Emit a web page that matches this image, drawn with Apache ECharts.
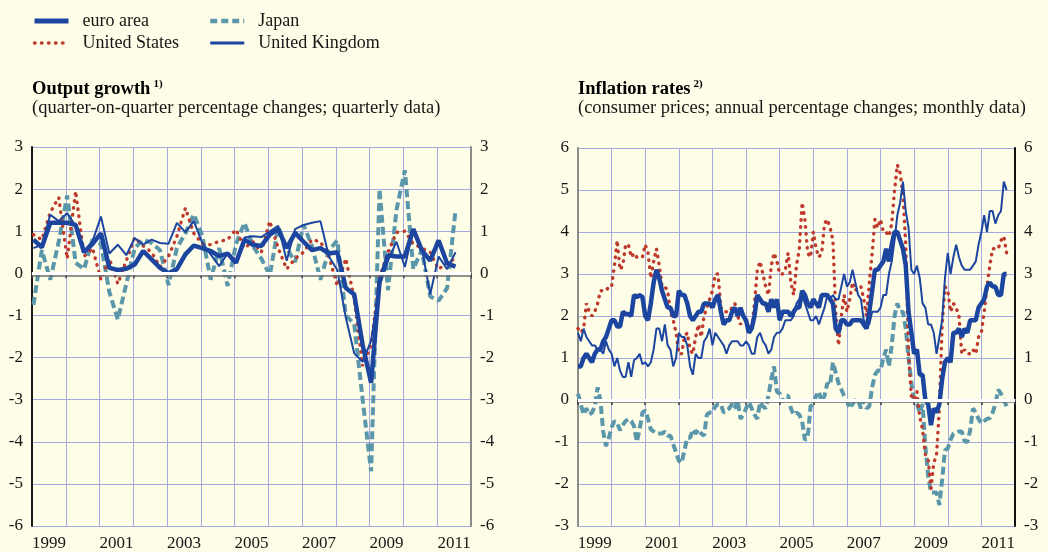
<!DOCTYPE html>
<html>
<head>
<meta charset="utf-8">
<script src="https://cdn.jsdelivr.net/npm/echarts/dist/echarts.min.js"></script>
<style>
  html, body { margin: 0; padding: 0; background: #fefde8; }
  #chart { width: 1048px; height: 552px; }
</style>
</head>
<body>
<div id="chart"></div>
<script>
// tick labels (one category per year, labels every other year)
const years = ['1999', '2000', '2001', '2002', '2003', '2004', '2005', '2006', '2007', '2008', '2009', '2010', '2011'];

// output growth, q-o-q %, 1999 Q1 - 2011 Q3
const euroAreaGrowth = [0.8, 0.62, 1.2, 1.2, 1.2, 1.15, 0.5, 0.7, 0.95, 0.13, 0.08, 0.11,
  0.21, 0.53, 0.33, 0.13, 0.0, 0.1, 0.45, 0.66, 0.6, 0.53, 0.41, 0.47,
  0.25, 0.8, 0.68, 0.65, 0.92, 1.05, 0.6, 0.96, 0.75, 0.55, 0.6, 0.47,
  0.5, -0.35, -0.5, -1.7, -2.6, -0.2, 0.43, 0.4, 0.4, 1.05, 0.55, 0.3,
  0.78, 0.24, 0.16];
const usGrowth = [0.92, 0.8, 1.45, 1.8, 0.35, 1.95, 0.4, 0.6, -0.15, 0.35, -0.25, 0.3,
  0.85, 0.65, 0.5, 0.15, 0.4, 0.88, 1.55, 0.95, 0.7, 0.68, 0.76, 0.8,
  1.04, 0.6, 0.75, 0.5, 1.24, 0.6, 0.1, 0.35, 0.5, 0.8, 0.75, 0.4,
  -0.3, 0.35, -0.6, -2.2, -1.7, -0.1, 0.5, 0.97, 1.0, 0.7, 0.6, 0.5,
  0.1, 0.25, 0.35];
const japanGrowth = [-0.75, 0.55, -0.15, 0.75, 1.85, 0.25, 0.1, 0.8, 0.7, -0.45, -1.1, -0.25,
  0.6, 0.8, 0.72, 0.55, -0.28, 0.6, 0.95, 1.4, 0.9, -0.15, 0.6, -0.3,
  0.7, 1.2, 0.65, 0.35, -0.05, 1.1, 0.6, 0.27, 1.15, 0.65, -0.15, 0.55,
  0.78, -1.0, -1.2, -3.0, -4.7, 2.0, -0.4, 1.5, 2.45, 0.1, 0.55, -0.55,
  -0.65, -0.35, 1.5];
const ukGrowth = [0.6, 0.68, 1.39, 1.24, 1.43, 1.12, 0.53, 0.76, 1.35, 0.47, 0.68, 0.43,
  0.84, 0.68, 0.8, 0.72, 0.7, 1.2, 0.98, 1.24, 0.72, 0.45, 0.17, 0.47,
  0.25, 0.85, 0.88, 0.86, 1.0, 1.13, 0.3, 1.05, 1.15, 1.2, 1.24, 0.4,
  0.08, -1.05, -1.9, -2.1, -1.6, -0.3, 0.3, 0.75, 0.15, 1.05, 0.6, -0.5,
  0.4, 0.1, 0.5];

// inflation, annual %, Jan 1999 - Oct 2011
const euroAreaInflation = [
  0.8, 0.8, 1.0, 1.1, 1.0, 0.9, 1.1, 1.2, 1.2, 1.4, 1.5, 1.7,
  1.9, 1.9, 1.75, 1.75, 2.1, 2.05, 2.05, 2.0, 2.5, 2.45, 2.5, 2.45,
  2.0, 1.9, 2.3, 2.8, 3.1, 2.9, 2.6, 2.4, 2.2, 2.2, 2.0, 2.0,
  2.6, 2.5, 2.5, 2.3, 2.0, 1.9, 2.0, 2.1, 2.1, 2.3, 2.3, 2.3,
  2.2, 2.4, 2.5, 2.1, 1.8, 1.9, 1.9, 2.1, 2.2, 2.0, 2.2, 2.0,
  1.9, 1.6, 1.7, 2.0, 2.5, 2.4, 2.3, 2.3, 2.1, 2.4, 2.2, 2.4,
  1.9, 2.1, 2.1, 2.1, 2.0, 2.1, 2.2, 2.2, 2.6, 2.5, 2.3, 2.2,
  2.4, 2.3, 2.2, 2.5, 2.5, 2.5, 2.4, 2.3, 1.7, 1.6, 1.9, 1.9,
  1.8, 1.8, 1.9, 1.9, 1.9, 1.9, 1.8, 1.7, 2.1, 2.6, 3.1, 3.1,
  3.2, 3.3, 3.6, 3.3, 3.7, 4.0, 4.0, 3.8, 3.6, 3.2, 2.1, 1.6,
  1.1, 1.2, 0.6, 0.6, 0.0, -0.1, -0.6, -0.2, -0.3, -0.1, 0.5, 0.9,
  1.0, 0.9, 1.6, 1.6, 1.7, 1.5, 1.7, 1.6, 1.9, 1.9, 1.9, 2.2,
  2.3, 2.4, 2.7, 2.8, 2.7, 2.7, 2.5, 2.5, 3.0, 3.0];
const usInflation = [
  1.7, 1.6, 1.7, 2.3, 2.1, 2.0, 2.1, 2.3, 2.6, 2.6, 2.6, 2.7,
  2.7, 3.2, 3.8, 3.1, 3.2, 3.7, 3.7, 3.4, 3.5, 3.4, 3.4, 3.4,
  3.7, 3.5, 2.9, 3.3, 3.6, 3.2, 2.7, 2.7, 2.6, 2.1, 1.9, 1.6,
  1.1, 1.1, 1.5, 1.6, 1.2, 1.1, 1.5, 1.8, 1.5, 2.0, 2.2, 2.4,
  2.6, 3.0, 3.0, 2.2, 2.1, 2.1, 2.1, 2.2, 2.3, 2.0, 1.8, 1.9,
  1.9, 1.7, 1.7, 2.3, 3.1, 3.3, 3.0, 2.7, 2.5, 3.2, 3.5, 3.3,
  3.0, 3.0, 3.1, 3.5, 2.8, 2.5, 3.2, 3.6, 4.7, 4.3, 3.5, 3.4,
  4.0, 3.6, 3.4, 3.5, 4.2, 4.3, 4.1, 3.8, 2.1, 1.3, 2.0, 2.5,
  2.1, 2.4, 2.8, 2.6, 2.7, 2.7, 2.4, 2.0, 2.8, 3.5, 4.3, 4.1,
  4.3, 4.0, 4.0, 3.9, 4.2, 5.0, 5.6, 5.4, 4.9, 3.7, 1.1, 0.1,
  0.0, 0.2, -0.4, -0.7, -1.3, -1.4, -2.1, -1.5, -1.3, -0.2, 1.8, 2.7,
  2.6, 2.1, 2.3, 2.2, 2.0, 1.1, 1.2, 1.1, 1.1, 1.2, 1.1, 1.5,
  1.6, 2.1, 2.7, 3.2, 3.6, 3.6, 3.6, 3.8, 3.9, 3.5];
const japanInflation = [
  0.15, -0.1, -0.35, -0.2, -0.35, -0.3, -0.15, 0.3, 0.0, -0.75, -1.1, -0.9,
  -0.65, -0.5, -0.55, -0.72, -0.6, -0.5, -0.45, -0.5, -0.62, -1.0, -0.7, -0.3,
  -0.25, -0.45, -0.7, -0.75, -0.8, -0.8, -0.8, -0.75, -0.85, -0.85, -1.05, -1.25,
  -1.45, -1.5, -1.2, -0.9, -0.9, -0.7, -0.8, -0.7, -0.8, -0.85, -0.35, -0.3,
  -0.3, -0.15, -0.1, -0.1, -0.3, -0.25, -0.2, -0.1, -0.2, 0.0, -0.45, -0.35,
  -0.2, -0.05, -0.2, -0.35, -0.45, -0.05, -0.15, -0.2, 0.1, 0.5, 0.8, 0.2,
  0.15, -0.05, 0.1, 0.1, -0.2, -0.35, -0.3, -0.35, -0.5, -0.95, -0.9, -0.15,
  -0.1, 0.1, 0.2, -0.05, 0.1, 0.4, 0.35, 0.9, 0.65, 0.4, 0.25, 0.1,
  0.0, -0.2, -0.1, 0.0, 0.0, -0.2, 0.0, -0.2, -0.15, 0.3, 0.6, 0.7,
  0.7, 1.0, 1.2, 0.8, 1.3, 2.0, 2.3, 2.1, 2.1, 1.7, 1.0, 0.4,
  0.0, -0.1, -0.3, -0.1, -1.1, -1.8, -2.2, -2.2, -2.2, -2.5, -1.9, -1.2,
  -1.15, -0.95, -0.8, -0.78, -0.75, -0.75, -0.98, -1.0, -0.72, -0.2, -0.3, -0.45,
  -0.56, -0.5, -0.45, -0.43, -0.3, -0.1, 0.25, 0.15, 0.0, -0.15];
const ukInflation = [
  1.6, 1.4, 1.7, 1.5, 1.4, 1.3, 1.3, 1.2, 1.2, 1.1, 1.4, 1.2,
  1.1, 0.8, 1.0, 0.7, 0.55, 0.55, 0.9, 0.55, 0.95, 1.0, 1.1, 0.85,
  0.9, 0.8, 0.9, 1.2, 1.7, 1.7, 1.4, 1.8, 1.3, 1.2, 0.8, 1.0,
  1.6, 1.5, 1.5, 1.3, 0.8, 0.6, 1.1, 1.0, 1.0, 1.4, 1.5, 1.7,
  1.3, 1.6, 1.5, 1.4, 1.3, 1.1, 1.3, 1.4, 1.4, 1.4, 1.3, 1.3,
  1.4, 1.3, 1.1, 1.1, 1.5, 1.6, 1.4, 1.3, 1.1, 1.2, 1.5, 1.6,
  1.6, 1.7, 1.9, 1.9, 1.9, 2.0, 2.3, 2.4, 2.5, 2.3, 2.1, 1.9,
  1.9, 2.0, 1.8, 2.0, 2.2, 2.5, 2.4, 2.5, 2.4, 2.4, 2.7, 3.0,
  2.7, 2.8, 3.1, 2.8, 2.5, 2.4, 1.9, 1.8, 1.8, 2.1, 2.1, 2.1,
  2.2, 2.5, 2.5, 3.0, 3.3, 3.8, 4.4, 4.7, 5.2, 4.5, 4.1, 3.1,
  3.0, 3.2, 2.9, 2.3, 2.2, 1.8, 1.8, 1.6, 1.1, 1.5, 1.9, 2.9,
  3.5, 3.0, 3.4, 3.7, 3.4, 3.2, 3.1, 3.1, 3.1, 3.2, 3.3, 3.7,
  4.0, 4.4, 4.0, 4.5, 4.5, 4.2, 4.4, 4.5, 5.2, 5.0];

const startYear = 1999;
const endYear = 2012;
const quarterly = (vals) => vals.map((v, i) => [startYear + i / 4 + 1 / 24, v]);
const monthly = (vals) => vals.map((v, i) => [startYear + i / 12, v]);

const BLUE = '#1c45a0';
const RED = '#bd3a2d';
const TEAL = '#5b97aa';
const GRID = '#a4aae0';
const FONT = 'Liberation Serif';
const TXT = '#161616';

const styles = {
  'euro area': { color: BLUE, lineStyle: { width: 4.5 } },
  'United States': { color: RED, lineStyle: { width: 3.4, type: [0.5, 6.5], cap: 'round' } },
  'Japan': { color: TEAL, lineStyle: { width: 4, type: [8, 4] } },
  'United Kingdom': { color: BLUE, lineStyle: { width: 2 } },
};
// legend keys are drawn a little heavier than the plotted lines
const legendLines = {
  'euro area': { color: BLUE, width: 5 },
  'United States': { color: RED, width: 3.5, type: [0.5, 6.5], cap: 'round' },
  'Japan': { color: TEAL, width: 4.5, type: [7, 4] },
  'United Kingdom': { color: BLUE, width: 3 },
};

function line(name, data, idx) {
  const s = styles[name];
  return {
    name: name,
    type: 'line',
    xAxisIndex: idx * 2,
    yAxisIndex: idx * 2,
    data: data,
    symbol: 'none',
    z: 3,
    color: s.color,
    lineStyle: Object.assign({ color: s.color }, s.lineStyle),
    animation: false,
  };
}

// white zero line with a grey shadow under it
function zeroLine(idx, shift) {
  return {
    type: 'line',
    xAxisIndex: idx * 2,
    yAxisIndex: idx * 2,
    data: [],
    z: 2,
    silent: true,
    markLine: {
      silent: true,
      symbol: 'none',
      label: { show: false },
      animation: false,
      data: [
        { yAxis: -shift, lineStyle: { color: '#6d6d6d', width: 1.5, type: 'solid' } },
        { yAxis: 0, lineStyle: { color: '#ffffff', width: 3, type: 'solid' } },
      ],
    },
  };
}

function xAxes(idx) {
  return [
    {
      type: 'value',
      gridIndex: idx,
      position: 'bottom',
      min: startYear,
      max: endYear,
      interval: 1,
      axisLine: { show: true, lineStyle: { color: '#8c8c8c', width: 2 } },
      axisTick: { show: true, length: 5, lineStyle: { color: '#333', width: 1.5 } },
      axisLabel: { show: false },
      splitLine: { show: true, lineStyle: { color: GRID, width: 1 } },
    },
    {
      type: 'category',
      gridIndex: idx,
      position: 'bottom',
      data: years,
      boundaryGap: true,
      axisLine: { show: false },
      axisTick: { show: false },
      splitLine: { show: false },
      axisLabel: { interval: 1, fontFamily: FONT, fontSize: 17, color: TXT, margin: 9 },
    },
  ];
}

function yAxes(idx, min, max, leftColor, rightColor) {
  const base = {
    type: 'value',
    gridIndex: idx,
    min: min,
    max: max,
    interval: 1,
    axisTick: { show: false },
    axisLabel: { fontFamily: FONT, fontSize: 17, color: TXT, margin: 9 },
  };
  return [
    Object.assign({}, base, {
      position: 'left',
      axisLine: { show: true, lineStyle: { color: leftColor, width: 2 } },
      splitLine: { show: true, lineStyle: { color: GRID, width: 1 } },
    }),
    Object.assign({}, base, {
      position: 'right',
      axisLine: { show: true, lineStyle: { color: rightColor, width: 2 } },
      splitLine: { show: false },
    }),
  ];
}

const titleRich = {
  b: { fontFamily: FONT, fontSize: 18.5, fontWeight: 'bold', color: '#000' },
  s: { fontFamily: FONT, fontSize: 11, fontWeight: 'bold', color: '#000', padding: [0, 0, 9, 3] },
};

function panelTitle(left, name, note, sub) {
  return {
    left: left,
    top: 79,
    text: '{b|' + name + '}{s|' + note + '}',
    subtext: sub,
    itemGap: 0,
    padding: 0,
    textStyle: { rich: titleRich },
    subtextStyle: { fontFamily: FONT, fontSize: 18.5, color: TXT },
  };
}

function legend(left, names) {
  return {
    orient: 'vertical',
    left: left,
    top: 12,
    itemWidth: 34,
    itemHeight: 14,
    itemGap: 4,
    padding: 0,
    selectedMode: false,
    data: names.map((n) => ({ name: n, itemStyle: { opacity: 0 }, lineStyle: legendLines[n] })),
    textStyle: { fontFamily: FONT, fontSize: 18, color: TXT, padding: [0, 0, 0, 9] },
  };
}

const option = {
  backgroundColor: '#fefde8',
  animation: false,
  title: [
    panelTitle(32, 'Output growth', '1)', '(quarter-on-quarter percentage changes; quarterly data)'),
    panelTitle(578, 'Inflation rates', '2)', '(consumer prices; annual percentage changes; monthly data)'),
  ],
  legend: [
    legend(32, ['euro area', 'United States']),
    legend(208, ['Japan', 'United Kingdom']),
  ],
  grid: [
    { left: 32, right: 577, top: 147, bottom: 26 },
    { left: 578, right: 33, top: 148, bottom: 26 },
  ],
  xAxis: xAxes(0).concat(xAxes(1)),
  yAxis: yAxes(0, -6, 3, '#1a1a1a', '#8c8c8c').concat(yAxes(1, -3, 6, '#8c8c8c', '#111')),
  series: [
    zeroLine(0, 0.05),
    zeroLine(1, 0.05),
    line('Japan', quarterly(japanGrowth), 0),
    line('United States', quarterly(usGrowth), 0),
    line('United Kingdom', quarterly(ukGrowth), 0),
    line('euro area', quarterly(euroAreaGrowth), 0),
    line('Japan', monthly(japanInflation), 1),
    line('United States', monthly(usInflation), 1),
    line('United Kingdom', monthly(ukInflation), 1),
    line('euro area', monthly(euroAreaInflation), 1),
  ],
};

const chart = echarts.init(document.getElementById('chart'), null, { renderer: 'canvas' });
chart.setOption(option);
</script>
</body>
</html>
